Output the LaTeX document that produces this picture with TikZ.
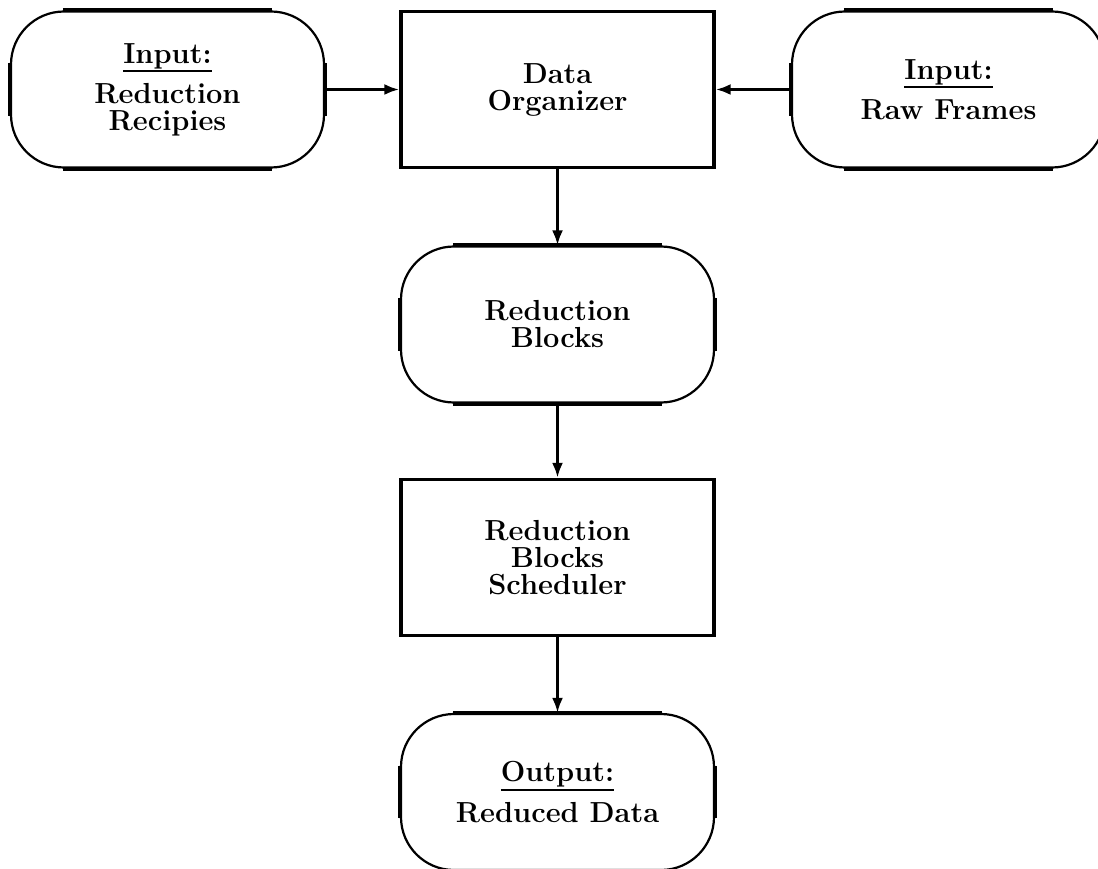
\documentclass[tikz,border=0pt]{standalone}
\usepackage{fontspec}
\usetikzlibrary{arrows.meta}
\newcommand\myul[1]{\setbox0\hbox{#1}\rlap{\rule[-9pt]{\wd0}{2pt}}\box0}
\begin{document}
\begin{tikzpicture}[x=1pt,y=-1pt,
  txt/.style={font=\bfseries\fontsize{29}{27}\selectfont, align=center},
  roundbox/.style={txt, draw, line width=2.2pt, rounded corners=53pt, minimum width=313pt, minimum height=156pt, inner sep=0pt},
  sqbox/.style={txt, draw, line width=3.3pt, minimum width=313pt, minimum height=156pt, inner sep=0pt},
  edge/.style={line width=4pt},
  arr/.style={line width=3.3pt, -{Latex[length=15pt,width=11pt]}}]
\useasboundingbox (0,0) rectangle (1098,869);
\clip (0,0) rectangle (1098,869);
\node[roundbox] (rec) at (167.5,89.5) {\myul{Input:}\\[10pt]Reduction\\Recipies};
\node[sqbox] (org) at (557.5,89.5) {Data\\Organizer};
\node[roundbox] (raw) at (948.5,89.5) {\myul{Input:}\\[10pt]Raw Frames};
\node[roundbox] (blocks) at (557.5,324.5) {Reduction\\Blocks};
\node[sqbox] (sched) at (557.5,557.5) {Reduction\\Blocks\\Scheduler};
\node[roundbox] (out) at (557.5,792) {\myul{Output:}\\[10pt]Reduced Data};
\foreach \n in {rec,raw,blocks,out} {
  \draw[edge] ([xshift=53pt]\n.north west) -- ([xshift=-53pt]\n.north east);
  \draw[edge] ([xshift=53pt]\n.south west) -- ([xshift=-53pt]\n.south east);
  \draw[edge] ([yshift=-53pt]\n.north west) -- ([yshift=53pt]\n.south west);
  \draw[edge] ([yshift=-53pt]\n.north east) -- ([yshift=53pt]\n.south east);
}
\draw[arr] (rec.east) -- (org.west);
\draw[arr] (raw.west) -- (org.east);
\draw[arr] (org.south) -- (blocks.north);
\draw[arr] (blocks.south) -- (sched.north);
\draw[arr] (sched.south) -- (out.north);
\end{tikzpicture}
\end{document}
